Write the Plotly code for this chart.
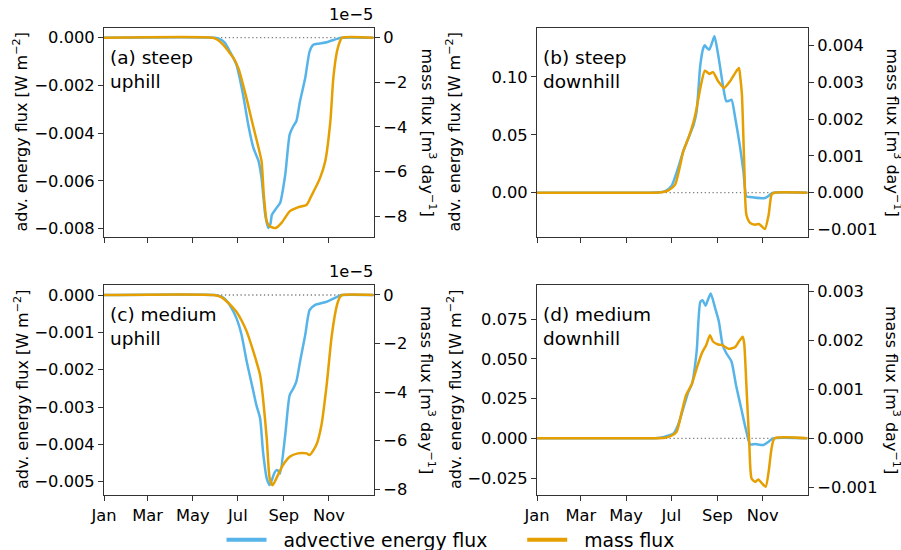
import pandas as pd
import plotly.graph_objects as go

# ---------------- data (day of year, values) ----------------
month_ticks = ["Jan", "Mar", "May", "Jul", "Sep", "Nov"]
month_tick_dates = ["2019-01-01", "2019-03-01", "2019-05-01", "2019-07-01", "2019-09-01", "2019-11-01"]
series_names = ["advective energy flux", "mass flux"]

# (a) steep uphill
a_energy_days = [0, 150, 156, 163, 170, 179, 188, 195, 202, 209, 213, 218, 222, 225, 227, 233, 238, 245,
                 251, 256, 260, 265, 272, 278, 283, 290, 301, 315, 321, 364]
a_energy = [0, 0, -0.00005, -0.0002, -0.00057, -0.00113, -0.00239, -0.00365, -0.00462, -0.00518, -0.00588,
            -0.00742, -0.00797, -0.0078, -0.00742, -0.00714, -0.00693, -0.00574, -0.00406, -0.0037, -0.0035,
            -0.00266, -0.00169, -0.00057, -0.0003, -0.00025, -0.00019, -0.00005, 0, 0]
a_mass_days = [0, 147, 154, 161, 168, 175, 182, 188, 194, 200, 209, 213, 216, 220, 224, 232, 240, 251, 262,
               274, 280, 292, 299, 306, 310, 315, 319, 322, 364]
a_mass = [0, 0, -0.1e-5, -0.31e-5, -0.6e-5, -0.91e-5, -1.4e-5, -2.11e-5, -2.9e-5, -3.75e-5, -4.95e-5,
          -5.55e-5, -7.04e-5, -8.24e-5, -8.46e-5, -8.54e-5, -8.31e-5, -7.79e-5, -7.61e-5, -7.49e-5, -7.12e-5,
          -6.30e-5, -5.55e-5, -3.75e-5, -1.81e-5, -0.61e-5, -0.16e-5, 0, 0]

# (b) steep downhill
b_energy_days = [0, 150, 163, 172, 181, 190, 197, 204, 211, 215, 220, 224, 226, 229, 232, 236, 239, 244, 251,
                 255, 259, 262, 267, 273, 278, 282, 287, 307, 314, 318, 364]
b_energy = [0, 0, 0.0003, 0.0012, 0.0055, 0.0213, 0.0358, 0.0473, 0.0588, 0.0703, 0.1106, 0.125, 0.1273,
            0.125, 0.1236, 0.13, 0.1351, 0.1192, 0.0905, 0.079, 0.0795, 0.0804, 0.0645, 0.0415, 0.0185,
            -0.0031, -0.0038, -0.0046, -0.0017, 0, 0]
b_mass_days = [0, 155, 168, 177, 186, 193, 197, 204, 211, 215, 220, 226, 229, 232, 237, 244, 252, 260, 267,
               272, 274, 276, 279, 282, 287, 294, 299, 303, 307, 312, 316, 320, 364]
b_mass = [0, 0, 0.00001, 0.000065, 0.00022, 0.00076, 0.00113, 0.00149, 0.00194, 0.0023, 0.00285, 0.00332,
          0.00328, 0.00323, 0.00328, 0.00303, 0.00285, 0.00303, 0.00326, 0.00339, 0.0031, 0.00267, 0.00085,
          -0.0006, -0.00082, -0.00087, -0.00085, -0.00092, -0.00099, -0.0006, -0.00005, 0, 0]

# (c) medium uphill
c_energy_days = [0, 150, 158, 164, 170, 179, 186, 193, 200, 206, 211, 215, 220, 224, 227, 230, 233, 236, 238,
                 245, 251, 256, 260, 265, 272, 278, 285, 301, 315, 321, 364]
c_energy = [0, 0, -0.00004, -0.00012, -0.00027, -0.00062, -0.00107, -0.00179, -0.00241, -0.00295, -0.0033,
            -0.0042, -0.00491, -0.00509, -0.00495, -0.00478, -0.00469, -0.00472, -0.00478, -0.00375, -0.00268,
            -0.0025, -0.00232, -0.00179, -0.00107, -0.0004, -0.00027, -0.00018, -0.00005, 0, 0]
c_mass_days = [0, 148, 158, 166, 172, 179, 186, 193, 202, 211, 215, 220, 224, 228, 233, 242, 251, 262, 274,
               278, 287, 294, 301, 308, 315, 319, 322, 364]
c_mass = [0, 0, -0.08e-5, -0.27e-5, -0.45e-5, -0.69e-5, -1.05e-5, -1.51e-5, -2.34e-5, -3.30e-5, -4.26e-5,
          -5.91e-5, -7.56e-5, -7.84e-5, -7.56e-5, -7.01e-5, -6.67e-5, -6.53e-5, -6.53e-5, -6.60e-5, -6.19e-5,
          -5.36e-5, -3.71e-5, -1.65e-5, -0.41e-5, -0.08e-5, 0, 0]

# (d) medium downhill
d_energy_days = [0, 150, 163, 172, 184, 190, 197, 204, 209, 215, 220, 223, 227, 230, 234, 240, 245, 250, 255,
                 262, 268, 275, 281, 287, 294, 305, 312, 318, 364]
d_energy = [0, 0, 0.0002, 0.001, 0.0031, 0.0084, 0.0189, 0.0294, 0.0347, 0.0546, 0.086, 0.087, 0.0836, 0.087,
            0.0913, 0.0819, 0.0735, 0.0588, 0.0536, 0.0483, 0.0336, 0.0189, 0.0063, -0.0038, -0.0036, -0.0042,
            -0.0021, 0, 0]
d_mass_days = [0, 155, 172, 181, 188, 195, 201, 208, 215, 222, 228, 233, 237, 244, 249, 258, 267, 272, 277,
               279, 282, 286, 289, 294, 298, 303, 308, 312, 316, 320, 364]
d_mass = [0, 0, 0.00001, 0.000053, 0.000135, 0.00054, 0.00089, 0.00109, 0.00143, 0.00174, 0.00191, 0.00211,
          0.00198, 0.00192, 0.00191, 0.00183, 0.00187, 0.00198, 0.00208, 0.00195, 0.00109, -0.00014, -0.00082,
          -0.00089, -0.00084, -0.00092, -0.00099, -0.00068, -0.0002, 0, 0]

panel_labels = ["(a) steep<br>uphill", "(b) steep<br>downhill", "(c) medium<br>uphill", "(d) medium<br>downhill"]

# ---------------- style ----------------
BLUE = "#56B4E9"
ORANGE = "#E69F00"
FONT = "DejaVu Sans"
TICK_SIZE = 16.3
W, H = 901, 550
NB = "\u00a0"


def px_x(p):
    return p / W


def px_y(p):
    return 1 - p / H


base = pd.Timestamp("2019-01-01")


def to_dates(days):
    return [base + pd.Timedelta(days=d) for d in days]


panels = [
    dict(ed=a_energy_days, e=a_energy, md=a_mass_days, m=a_mass, scale=1e5, xp=(104, 374), yp=(28, 237),
         lr=[-0.00835, 0.000406], rr=[-8.94, 0.435], lfmt=".3f", ldt=0.002, rfmt="d", rdt=2, offset=True),
    dict(ed=b_energy_days, e=b_energy, md=b_mass_days, m=b_mass, scale=1, xp=(537, 808), yp=(28, 237),
         lr=[-0.0383, 0.1423], rr=[-0.001205, 0.00448], lfmt=".2f", ldt=0.05, rfmt=".3f", rdt=0.001, offset=False),
    dict(ed=c_energy_days, e=c_energy, md=c_mass_days, m=c_mass, scale=1e5, xp=(104, 374), yp=(285, 495),
         lr=[-0.005357, 0.000268], rr=[-8.247, 0.412], lfmt=".3f", ldt=0.001, rfmt="d", rdt=2, offset=True),
    dict(ed=d_energy_days, e=d_energy, md=d_mass_days, m=d_mass, scale=1, xp=(537, 808), yp=(285, 495),
         lr=[-0.0357, 0.0966], rr=[-0.001159, 0.003136], lfmt=".3f", ldt=0.025, rfmt=".3f", rdt=0.001, offset=False),
]

fig = go.Figure()
layout = dict(
    template="none",
    width=W, height=H, margin=dict(l=0, r=0, t=0, b=0, autoexpand=False),
    paper_bgcolor="white", plot_bgcolor="white",
    font=dict(family=FONT, size=16, color="black"),
    showlegend=True,
    legend=dict(orientation="h", x=0.5, y=px_y(540), xanchor="center", yanchor="middle",
                font=dict(size=18.8), bgcolor="rgba(0,0,0,0)", borderwidth=0, itemwidth=40, tracegroupgap=0),
)
annotations = []
shapes = []

axis_common = dict(showgrid=False, zeroline=False, showline=True, linecolor="#333333", linewidth=1,
                   ticks="outside", ticklen=5, tickwidth=1, tickcolor="#333333", automargin=False,
                   tickfont=dict(family=FONT, size=TICK_SIZE, color="black"))

for i, p in enumerate(panels):
    n = i + 1
    xid = "x" if n == 1 else f"x{n}"
    ly = 2 * i + 1
    ry = 2 * i + 2
    lyid = "y" if ly == 1 else f"y{ly}"
    ryid = f"y{ry}"
    xdom = [px_x(p["xp"][0]), px_x(p["xp"][1])]
    ydom = [px_y(p["yp"][1]), px_y(p["yp"][0])]

    layout["xaxis" if n == 1 else f"xaxis{n}"] = dict(
        axis_common, domain=xdom, anchor=lyid, type="date",
        range=[base, base + pd.Timedelta(days=365)],
        tickvals=month_tick_dates, ticktext=month_ticks,
        showticklabels=(i >= 2), mirror=True,
    )
    layout["yaxis" if ly == 1 else f"yaxis{ly}"] = dict(
        axis_common, domain=ydom, anchor=xid, range=p["lr"], tickformat=p["lfmt"], dtick=p["ldt"],
        tick0=0, mirror=True, side="left",
    )
    layout[f"yaxis{ry}"] = dict(
        axis_common, domain=ydom, anchor=xid, overlaying=lyid, side="right", range=p["rr"],
        tickformat=p["rfmt"], dtick=p["rdt"], tick0=0,
    )

    # zero reference line
    shapes.append(dict(type="line", xref=f"{xid} domain", yref=lyid, x0=0, x1=1, y0=0, y1=0,
                       line=dict(color="#808080", width=1.3, dash="1.3px,2.6px"), layer="below"))

    fig.add_trace(go.Scatter(
        x=to_dates(p["ed"]), y=p["e"], xaxis=xid, yaxis=lyid, mode="lines",
        line=dict(color=BLUE, width=2.5, shape="spline", smoothing=0.6),
        name=series_names[0], showlegend=False, legendgroup="e",
    ))
    fig.add_trace(go.Scatter(
        x=to_dates(p["md"]), y=[v * p["scale"] for v in p["m"]], xaxis=xid, yaxis=ryid, mode="lines",
        line=dict(color=ORANGE, width=2.5, shape="spline", smoothing=0.6),
        name=series_names[1], showlegend=False, legendgroup="m",
    ))

    # panel label
    annotations.append(dict(text=panel_labels[i], xref="paper", yref="paper",
                            x=px_x(p["xp"][0] + 4), y=px_y(p["yp"][0] + 17), xanchor="left", yanchor="top",
                            align="left", showarrow=False, font=dict(size=18.5, family=FONT)))
    # left axis title
    annotations.append(dict(text="adv. energy flux [W m<sup>−2</sup>]", xref="paper", yref="paper",
                            x=px_x(p["xp"][0] - 83), y=(ydom[0] + ydom[1]) / 2, textangle=-90,
                            xanchor="center", yanchor="middle", showarrow=False, font=dict(size=16)))
    # right axis title
    annotations.append(dict(text="mass flux [m<sup>3</sup> day<sup>−1</sup>]", xref="paper", yref="paper",
                            x=px_x(p["xp"][1] + 54 if i % 2 == 0 else p["xp"][1] + 85),
                            y=(ydom[0] + ydom[1]) / 2, textangle=90,
                            xanchor="center", yanchor="middle", showarrow=False, font=dict(size=16)))
    if p["offset"]:
        annotations.append(dict(text="1e−5", xref="paper", yref="paper", x=px_x(p["xp"][1] + 1),
                                y=px_y(p["yp"][0] - 2), xanchor="right", yanchor="bottom",
                                showarrow=False, font=dict(size=TICK_SIZE)))

# legend entries (thicker sample lines, as in the reference legend)
fig.add_trace(go.Scatter(x=[None], y=[None], mode="lines", line=dict(color=BLUE, width=4),
                         name=NB * 2 + series_names[0] + NB * 5, legendgroup="e", showlegend=True))
fig.add_trace(go.Scatter(x=[None], y=[None], mode="lines", line=dict(color=ORANGE, width=4),
                         name=NB * 2 + series_names[1], legendgroup="m", showlegend=True))

layout["annotations"] = annotations
layout["shapes"] = shapes
fig.update_layout(**layout)
fig.write_html("out.html")
